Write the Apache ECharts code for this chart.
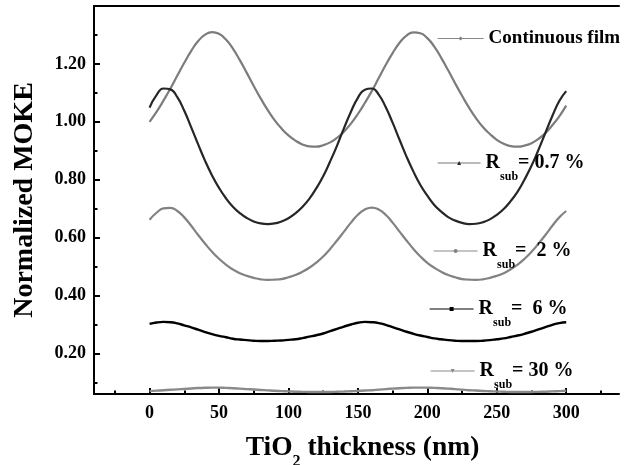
<!DOCTYPE html>
<html><head><meta charset="utf-8">
<script src="https://cdn.jsdelivr.net/npm/echarts@6/dist/echarts.min.js"></script>
<style>html,body{margin:0;padding:0;background:#fff}#c{width:634px;height:465px}</style>
</head><body><div id="c"></div>
<script>
// TiO2 thickness (nm), every 5 nm
const thickness = [0,5,10,15,20,25,30,35,40,45,50,55,60,65,70,75,80,85,90,95,100,105,110,115,120,125,130,135,140,145,150,155,160,165,170,175,180,185,190,195,200,205,210,215,220,225,230,235,240,245,250,255,260,265,270,275,280,285,290,295,300];
const continuousFilm = [1.000,1.034,1.073,1.115,1.160,1.204,1.245,1.279,1.301,1.310,1.304,1.284,1.253,1.213,1.169,1.124,1.081,1.041,1.006,0.977,0.953,0.935,0.922,0.915,0.914,0.919,0.929,0.945,0.966,0.994,1.027,1.065,1.106,1.151,1.196,1.237,1.273,1.298,1.309,1.306,1.289,1.260,1.221,1.178,1.133,1.090,1.049,1.013,0.982,0.958,0.938,0.924,0.916,0.914,0.918,0.926,0.941,0.961,0.988,1.019,1.056];
const rsub07 = [1.049,1.092,1.115,1.112,1.085,1.038,0.981,0.922,0.865,0.815,0.772,0.736,0.707,0.685,0.668,0.656,0.649,0.647,0.649,0.656,0.667,0.684,0.706,0.734,0.770,0.812,0.863,0.918,0.978,1.035,1.083,1.111,1.115,1.094,1.051,0.997,0.938,0.880,0.828,0.782,0.745,0.713,0.690,0.671,0.659,0.651,0.647,0.648,0.653,0.663,0.679,0.699,0.726,0.759,0.801,0.848,0.903,0.962,1.020,1.072,1.106];
const rsub2 = [0.662,0.686,0.701,0.703,0.692,0.670,0.641,0.609,0.579,0.551,0.527,0.507,0.490,0.477,0.468,0.461,0.456,0.454,0.455,0.457,0.463,0.471,0.482,0.496,0.514,0.535,0.561,0.590,0.621,0.652,0.679,0.697,0.704,0.697,0.679,0.652,0.621,0.590,0.561,0.535,0.513,0.496,0.482,0.471,0.463,0.457,0.455,0.454,0.456,0.461,0.468,0.477,0.491,0.507,0.527,0.551,0.579,0.609,0.641,0.670,0.692];
const rsub6 = [0.302,0.307,0.309,0.308,0.304,0.297,0.290,0.282,0.274,0.267,0.261,0.256,0.251,0.248,0.246,0.244,0.243,0.243,0.244,0.245,0.247,0.249,0.253,0.258,0.263,0.269,0.277,0.285,0.293,0.300,0.306,0.309,0.308,0.305,0.299,0.291,0.283,0.275,0.268,0.262,0.257,0.252,0.249,0.246,0.244,0.243,0.243,0.243,0.244,0.246,0.249,0.252,0.257,0.262,0.268,0.275,0.283,0.291,0.299,0.305,0.308];
const rsub30 = [0.070,0.0715,0.073,0.0745,0.076,0.0775,0.079,0.0805,0.0815,0.082,0.082,0.081,0.080,0.0785,0.077,0.0755,0.074,0.0725,0.071,0.070,0.069,0.068,0.0675,0.067,0.067,0.067,0.067,0.0677,0.0685,0.0695,0.0705,0.072,0.073,0.075,0.077,0.0785,0.080,0.081,0.082,0.082,0.082,0.081,0.080,0.0785,0.077,0.075,0.073,0.072,0.0705,0.0695,0.0685,0.0677,0.067,0.067,0.067,0.067,0.0675,0.068,0.069,0.070,0.071];

const seriesNames = ['Continuous film','R_sub = 0.7 %','R_sub = 2 %','R_sub = 6 %','R_sub = 30 %'];
const legendLabels = ['{c|Continuous film}','{m|R}{s|sub}{m|= 0.7 %}','{m|R}{s|sub}{m|=  2 %}','{m|R}{s|sub}{m|=  6 %}','{m|R}{s|sub}{m|= 30 %}'];

const xTickValues = [0,50,100,150,200,250,300];
const xMinorTickValues = [-25,25,75,125,175,225,275,325];
const yTickValues = [0.2,0.4,0.6,0.8,1.0,1.2];
const yMinorTickValues = [0.1,0.3,0.5,0.7,0.9,1.1,1.3];

const FONT = '"Liberation Serif","Times New Roman",serif';
const X_MIN = -40, X_MAX = 338, Y_MIN = 0.06, Y_MAX = 1.40;

const seriesValues = [continuousFilm, rsub07, rsub2, rsub6, rsub30];
const seriesStyle = [
  {color:'#7c7c7c', width:2.2, symbol:'diamond'},
  {color:'#262626', width:2.2, symbol:'triangle'},
  {color:'#828282', width:2.2, symbol:'circle'},
  {color:'#000000', width:2.4, symbol:'rect'},
  {color:'#8a8a8a', width:2.4, symbol:'path://M0,0 L10,0 L5,10 Z'}
];
const legendPos = [
  {left:437, top:29, itemWidth:46},
  {left:437, top:153, itemWidth:43},
  {left:433, top:241, itemWidth:44},
  {left:429, top:299, itemWidth:44},
  {left:430, top:361, itemWidth:44}
];
const legendLineColor = ['#8a8a8a','#777777','#8a8a8a','#000000','#8a8a8a'];

const legendRich = {
  c: {fontFamily:FONT, fontWeight:'bold', fontSize:19, color:'#000', lineHeight:20},
  m: {fontFamily:FONT, fontWeight:'bold', fontSize:20, color:'#000', lineHeight:40},
  s: {fontFamily:FONT, fontWeight:'bold', fontSize:12, color:'#000', lineHeight:12, verticalAlign:'bottom'}
};

const chart = echarts.init(document.getElementById('c'), null, {renderer:'canvas'});

const baseX = {type:'value', min:X_MIN, max:X_MAX, splitLine:{show:false}};
const baseY = {type:'value', min:Y_MIN, max:Y_MAX, splitLine:{show:false}};

chart.setOption({
  animation:false,
  backgroundColor:'#fff',
  grid:{left:94, right:15, top:6, bottom:71, containLabel:false, outerBoundsMode:'none'},
  xAxis:[
    Object.assign({}, baseX, {
      position:'bottom',
      axisLine:{show:true, onZero:false, lineStyle:{color:'#000', width:2}},
      axisTick:{show:true, inside:true, length:6, customValues:xTickValues, lineStyle:{color:'#000', width:2}},
      axisLabel:{show:true, customValues:xTickValues, margin:10, color:'#000', fontFamily:FONT, fontWeight:'bold', fontSize:18},
      name:'{a|TiO}{s|2}{a| thickness (nm)}',
      nameLocation:'middle', nameGap:32,
      nameTextStyle:{padding:[0,0,0,12], rich:{
        a:{fontFamily:FONT, fontWeight:'bold', fontSize:27.5, color:'#000', lineHeight:44},
        s:{fontFamily:FONT, fontWeight:'bold', fontSize:16, color:'#000', lineHeight:16, verticalAlign:'bottom'}
      }}
    }),
    Object.assign({}, baseX, {
      position:'bottom',
      axisLine:{show:false, onZero:false},
      axisTick:{show:true, inside:true, length:3.5, customValues:xMinorTickValues, lineStyle:{color:'#000', width:2}},
      axisLabel:{show:false}
    }),
    Object.assign({}, baseX, {
      position:'top',
      axisLine:{show:true, onZero:false, lineStyle:{color:'#000', width:2}},
      axisTick:{show:false},
      axisLabel:{show:false}
    })
  ],
  yAxis:[
    Object.assign({}, baseY, {
      position:'left',
      axisLine:{show:true, onZero:false, lineStyle:{color:'#000', width:2}},
      axisTick:{show:true, inside:true, length:6, customValues:yTickValues, lineStyle:{color:'#000', width:2}},
      axisLabel:{show:true, customValues:yTickValues, margin:8, color:'#000', fontFamily:FONT, fontWeight:'bold', fontSize:18,
        formatter:function(v){return Number(v).toFixed(2);}},
      name:'Normalized MOKE', nameLocation:'middle', nameGap:55,
      nameTextStyle:{fontFamily:FONT, fontWeight:'bold', fontSize:28, color:'#000', lineHeight:28}
    }),
    Object.assign({}, baseY, {
      position:'left',
      axisLine:{show:false, onZero:false},
      axisTick:{show:true, inside:true, length:3.5, customValues:yMinorTickValues, lineStyle:{color:'#000', width:2}},
      axisLabel:{show:false}
    })
  ],
  legend: seriesNames.map(function(n, i){
    return {
      data:[n], left:legendPos[i].left, top:legendPos[i].top, padding:0,
      itemWidth:legendPos[i].itemWidth, itemHeight:5, selectedMode:false,
      formatter:function(){return legendLabels[i];},
      textStyle:{rich:legendRich},
      lineStyle:{width:1.2, color:legendLineColor[i]}
    };
  }),
  series: seriesNames.map(function(n, i){
    return {
      type:'line', name:n, xAxisIndex:0, yAxisIndex:0,
      data: thickness.map(function(t, k){return [t, seriesValues[i][k]];}),
      smooth:true, showSymbol:false, symbol:seriesStyle[i].symbol, symbolSize:5,
      lineStyle:{color:seriesStyle[i].color, width:seriesStyle[i].width},
      itemStyle:{color:seriesStyle[i].color},
      emphasis:{disabled:true}, silent:true
    };
  })
});
</script>
</body></html>
